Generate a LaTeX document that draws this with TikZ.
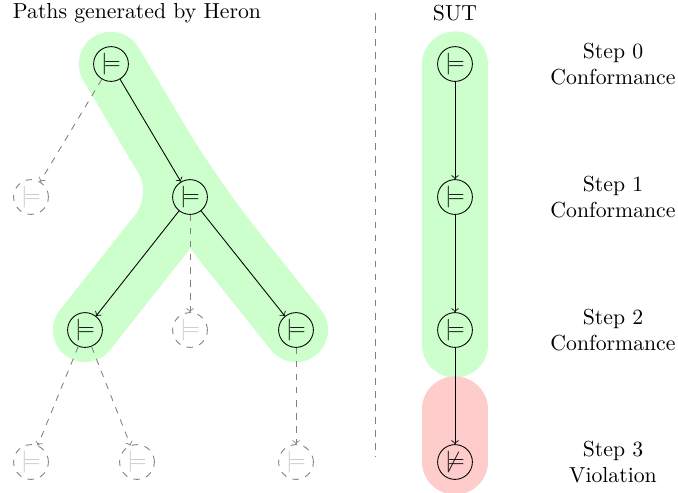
\documentclass[tikz,border=0pt]{standalone}
\usepackage{amssymb}
\usetikzlibrary{backgrounds}
\begin{document}
\begin{tikzpicture}[x=0.46pt,y=-0.46pt,
  st/.style={circle,draw,minimum size=16pt,inner sep=0pt},
  gst/.style={circle,draw=gray,dashed,minimum size=16pt,inner sep=0pt,text=gray!45},
  arr/.style={->},
  garr/.style={->,gray,dashed},
  lbl/.style={align=center},
  okband/.style={draw=green!20,line cap=round,line join=round},
  badband/.style={draw=red!20,line cap=round,line join=round}]
\useasboundingbox (0,0) rectangle (678,492);
% titles
\node (title) at (137,13) {Paths generated by Heron};
\node (sut) at (455,13) {SUT};
\coordinate (divtop) at (375,13);
\coordinate (divbot) at (375,457);
\draw[gray,dashed] (divtop) -- (divbot);
% left tree
\node[st] (A) at (111,64) {$\models$};
\node[gst] (g1) at (31,197) {$\models$};
\node[st] (B) at (190,197) {$\models$};
\node[st] (C) at (85,330) {$\models$};
\node[gst] (g2) at (190,330) {$\models$};
\node[st] (D) at (296,330) {$\models$};
\node[gst] (g3) at (31,462) {$\models$};
\node[gst] (g4) at (137,462) {$\models$};
\node[gst] (g5) at (296,462) {$\models$};
\draw[arr] (A) -- (B);
\draw[arr] (B) -- (C);
\draw[arr] (B) -- (D);
\draw[garr] (A) -- (g1);
\draw[garr] (B) -- (g2);
\draw[garr] (C) -- (g3);
\draw[garr] (C) -- (g4);
\draw[garr] (D) -- (g5);
% SUT column
\node[st] (S0) at (455,64) {$\models$};
\node[st] (S1) at (455,197) {$\models$};
\node[st] (S2) at (455,330) {$\models$};
\node[st] (S3) at (455,462) {$\not\models$};
\draw[arr] (S0) -- (S1);
\draw[arr] (S1) -- (S2);
\draw[arr] (S2) -- (S3);
\coordinate (gend) at (455,345);
\coordinate (rtop) at (455,409);
% labels
\node[lbl] (l0) at (613,64) {Step 0\\Conformance};
\node[lbl] (l1) at (613,197) {Step 1\\Conformance};
\node[lbl] (l2) at (613,330) {Step 2\\Conformance};
\node[lbl] (l3) at (613,462) {Step 3\\Violation};
\begin{scope}[on background layer]
\draw[okband,line width=29.5pt,rounded corners=21pt] (A.center) -- (B.center) -- (C.center);
\draw[okband,line width=29.5pt,rounded corners=30pt] (A.center) -- (B.center) -- (D.center);
\draw[okband,line width=30pt] (S0.center) -- (gend);
\draw[badband,line width=30pt] (rtop) -- (S3.center);
\end{scope}
\end{tikzpicture}
\end{document}
